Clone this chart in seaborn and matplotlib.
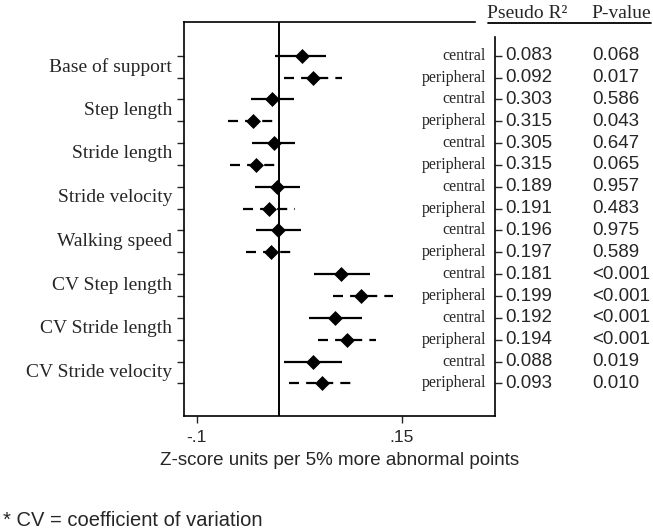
import numpy as np
import pandas as pd
import matplotlib
matplotlib.use("Agg")
import matplotlib.pyplot as plt
import seaborn as sns

groups = ["Base of support", "Step length", "Stride length", "Stride velocity",
          "Walking speed", "CV Step length", "CV Stride length", "CV Stride velocity"]
central_est = [0.028, -0.008, -0.006, -0.002, -0.001, 0.076, 0.069, 0.042]
central_lo = [-0.004, -0.034, -0.033, -0.029, -0.028, 0.043, 0.037, 0.006]
central_hi = [0.058, 0.019, 0.020, 0.026, 0.027, 0.111, 0.102, 0.077]
peripheral_est = [0.042, -0.031, -0.028, -0.012, -0.009, 0.100, 0.083, 0.053]
peripheral_lo = [0.007, -0.062, -0.059, -0.044, -0.040, 0.066, 0.048, 0.012]
peripheral_hi = [0.077, -0.002, 0.001, 0.020, 0.022, 0.139, 0.119, 0.095]
r2_central = ["0.083", "0.303", "0.305", "0.189", "0.196", "0.181", "0.192", "0.088"]
r2_peripheral = ["0.092", "0.315", "0.315", "0.191", "0.197", "0.199", "0.194", "0.093"]
p_central = ["0.068", "0.586", "0.647", "0.957", "0.975", "<0.001", "<0.001", "0.019"]
p_peripheral = ["0.017", "0.043", "0.065", "0.483", "0.589", "<0.001", "<0.001", "0.010"]
xticks = [-0.1, 0.15]
xticklabels = ["-.1", ".15"]
xlabel = "Z-score units per 5% more abnormal points"
footnote = "* CV = coefficient of variation"

rows = []
for i, g in enumerate(groups):
    rows.append(dict(group=g, type="central", est=central_est[i], lo=central_lo[i],
                     hi=central_hi[i], r2=r2_central[i], p=p_central[i]))
    rows.append(dict(group=g, type="peripheral", est=peripheral_est[i], lo=peripheral_lo[i],
                     hi=peripheral_hi[i], r2=r2_peripheral[i], p=p_peripheral[i]))
df = pd.DataFrame(rows)
df["row"] = np.arange(len(df))

sns.set_theme(style="white")
plt.rcParams["font.family"] = ["Liberation Sans", "DejaVu Sans"]
SERIF = ["Liberation Serif", "DejaVu Serif"]

W, H = 653, 528
fig = plt.figure(figsize=(W / 100, H / 100), dpi=100)
L, R, T, B = 184, 495, 22, 416
ax = fig.add_axes([L / W, 1 - B / H, (R - L) / W, (B - T) / H])

# confidence intervals
c = df[df.type == "central"]
p = df[df.type == "peripheral"]
ax.hlines(c["row"], c["lo"], c["hi"], color="black", lw=1.6)
ax.hlines(p["row"], p["lo"], p["hi"], color="black", lw=1.6, linestyles=(0, (4.5, 3.2)))
sns.scatterplot(data=df, x="est", y="row", marker="D", color="black", s=58,
                edgecolor="black", linewidth=0, ax=ax, zorder=3, legend=False)
ax.axvline(0, color="black", lw=1.4, zorder=2)

ax.set_xlim(-0.1155, 0.2638)
ax.set_ylim(16.49, -1.54)
ax.set_xticks(xticks)
ax.set_xticklabels(xticklabels, fontsize=12.5)
ax.set_yticks(df["row"])
ax.set_yticklabels([])
ax.tick_params(axis="x", direction="out", length=5, width=1, bottom=True, pad=5)
ax.tick_params(axis="y", direction="out", length=5, width=1, left=True, right=True,
               labelleft=False, labelright=False)
ax.set_xlabel(xlabel, fontsize=13.5, labelpad=5)
ax.set_ylabel("")

for s in ax.spines.values():
    s.set_color("black")
    s.set_linewidth(1.2)
ax.spines["top"].set_bounds(-0.1155, 0.239)
ax.spines["right"].set_bounds(-0.86, 16.49)

# group labels on left
for i, g in enumerate(groups):
    ax.text(-0.1155 - 12 / 820, 2 * i + 0.5, g, ha="right", va="center",
            fontsize=14, family=SERIF)

# central / peripheral labels and stats
trans = ax.get_yaxis_transform()
for _, r in df.iterrows():
    ax.text(1 - 9 / (R - L), r["row"], r["type"], transform=trans, ha="right",
            va="center", fontsize=11.5, family=SERIF)
    ax.text(1 + 10 / (R - L), r["row"], r["r2"], transform=trans, ha="left",
            va="center", fontsize=13.5, clip_on=False)
    ax.text(1 + 97 / (R - L), r["row"], r["p"], transform=trans, ha="left",
            va="center", fontsize=13.5, clip_on=False)

# header
fig.text(487 / W, 1 - 18 / H, "Pseudo R²", ha="left", va="baseline",
         fontsize=14, family=SERIF)
fig.text(651 / W, 1 - 18 / H, "P-value", ha="right", va="baseline",
         fontsize=14, family=SERIF)
fig.add_artist(plt.Line2D([488 / W, 651 / W], [1 - 22.5 / H, 1 - 22.5 / H],
                          color="black", lw=1.3))

fig.text(3 / W, 1 - 520 / H, footnote, ha="left", va="center", fontsize=14.5)

fig.savefig("out.png", dpi=100)
